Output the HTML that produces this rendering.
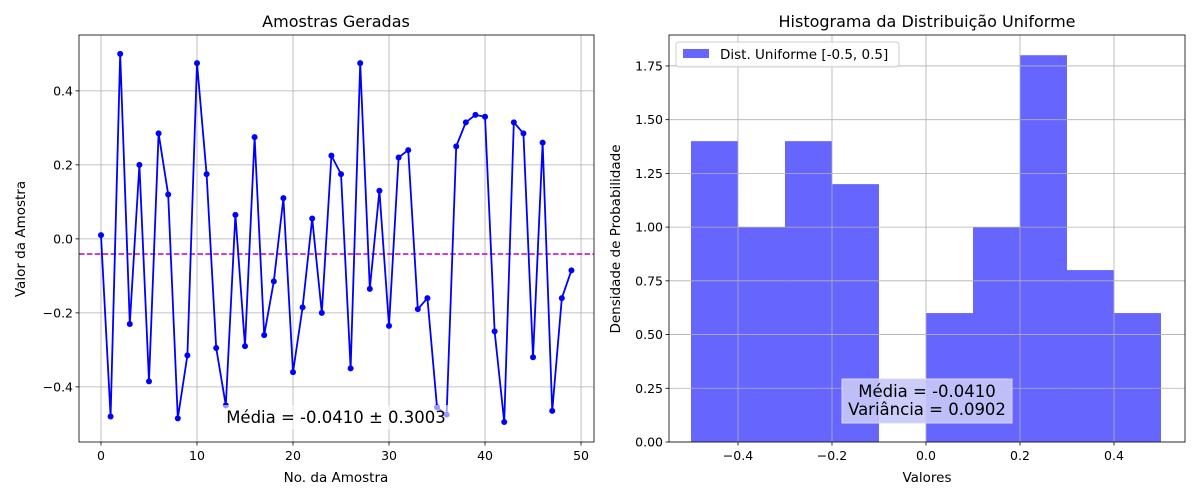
<!DOCTYPE html>
<html><head><meta charset="utf-8"><style>
body{margin:0;background:#fff}
svg{display:block;font-family:"DejaVu Sans","Liberation Sans",sans-serif}
</style></head><body>
<svg id="c" width="1200" height="500" viewBox="0 0 1200 500"></svg>
<script>
const sampleIdx = Array.from({length:50},(_,i)=>i);
const sampleVals = [0.01,-0.48,0.50,-0.23,0.20,-0.385,0.285,0.12,-0.485,-0.315,0.475,0.175,-0.295,-0.45,0.065,-0.29,0.275,-0.26,-0.115,0.11,-0.36,-0.185,0.055,-0.20,0.225,0.175,-0.35,0.475,-0.135,0.13,-0.235,0.22,0.24,-0.19,-0.16,-0.455,-0.475,0.25,0.315,0.335,0.33,-0.25,-0.495,0.315,0.285,-0.32,0.26,-0.465,-0.16,-0.085];
const meanVal = -0.0410;
const stdVal = 0.3003;
const varVal = 0.0902;
const leftXTicks = [0,10,20,30,40,50];
const leftYTicks = [-0.4,-0.2,0.0,0.2,0.4];
const binEdges = [-0.5,-0.4,-0.3,-0.2,-0.1,0.0,0.1,0.2,0.3,0.4,0.5];
const binDensity = [1.4,1.0,1.4,1.2,0,0.6,1.0,1.8,0.8,0.6];
const rightXTicks = [-0.4,-0.2,0.0,0.2,0.4];
const rightYTicks = [0,0.25,0.5,0.75,1.0,1.25,1.5,1.75];

const svg=document.getElementById('c');
const NS='http://www.w3.org/2000/svg';
function mk(tag,attrs,parent,text){const e=document.createElementNS(NS,tag);for(const k in attrs)e.setAttribute(k,attrs[k]);if(text!==undefined)e.textContent=text;(parent||svg).appendChild(e);return e;}
const fmt=(v,d)=>(v<0?'−':'')+Math.abs(v).toFixed(d);
const TK=12.5, AX=13.5, TT=16, AN=16.5;

// Left axes
const L={x0:79,x1:594,y0:35,y1:442,xmin:-2.29,xmax:51.35,ymin:-0.549,ymax:0.551};
const lx=v=>L.x0+(v-L.xmin)/(L.xmax-L.xmin)*(L.x1-L.x0);
const ly=v=>L.y1-(v-L.ymin)/(L.ymax-L.ymin)*(L.y1-L.y0);
const gL=mk('g',{});

leftXTicks.forEach(t=>{const x=lx(t);
 const g=mk('line',{x1:x,x2:x,y1:L.y0,y2:L.y1,stroke:'#b0b0b0','stroke-width':0.8},gL);
 mk('line',{x1:x,x2:x,y1:L.y1,y2:L.y1+3.5,stroke:'#000','stroke-width':0.8},gL);
 const tx=mk('text',{x:x,y:L.y1+18,'font-size':TK,'text-anchor':'middle'},gL,String(t));});
leftYTicks.forEach(t=>{const y=ly(t);
 const g=mk('line',{x1:L.x0,x2:L.x1,y1:y,y2:y,stroke:'#b0b0b0','stroke-width':0.8},gL);
 mk('line',{x1:L.x0-3.5,x2:L.x0,y1:y,y2:y,stroke:'#000','stroke-width':0.8},gL);
 const tx=mk('text',{x:L.x0-6,y:y+4.5,'font-size':TK,'text-anchor':'end'},gL,fmt(t,1));});
const ml=mk('line',{x1:L.x0,x2:L.x1,y1:ly(meanVal),y2:ly(meanVal),stroke:'#bf00bf','stroke-width':1.5,'stroke-dasharray':'5.5,2.4'},gL);

const pts=sampleIdx.map((i,k)=>lx(i)+','+ly(sampleVals[k])).join(' ');
const pl=mk('polyline',{points:pts,fill:'none',stroke:'#0000ff','stroke-width':1.8},gL);

sampleIdx.forEach((i,k)=>{const c=mk('circle',{cx:lx(i),cy:ly(sampleVals[k]),r:3,fill:'#0000ff'},gL);});
const lb=mk('rect',{x:221,y:405,width:230,height:24,fill:'#fff','fill-opacity':0.6},gL);

const lt=mk('text',{x:336,y:423,'font-size':AN,'text-anchor':'middle'},gL,'Média = '+meanVal.toFixed(4)+' ± '+stdVal.toFixed(4));

const lf=mk('rect',{x:L.x0,y:L.y0,width:L.x1-L.x0,height:L.y1-L.y0,fill:'none',stroke:'#000','stroke-width':0.8},gL);

let t1=mk('text',{x:336,y:27,'font-size':TT,'text-anchor':'middle'},gL,'Amostras Geradas');
let t2=mk('text',{x:336,y:482,'font-size':AX,'text-anchor':'middle'},gL,'No. da Amostra');
let t3=mk('text',{x:25,y:239,'font-size':AX,'text-anchor':'middle',transform:'rotate(-90 25 239)'},gL,'Valor da Amostra');

// Right axes
const R={x0:669,x1:1185,y0:35,y1:442,xmin:-0.5468,xmax:0.5511,ymin:0,ymax:1.894};
const rx=v=>R.x0+(v-R.xmin)/(R.xmax-R.xmin)*(R.x1-R.x0);
const ry=v=>R.y1-(v-R.ymin)/(R.ymax-R.ymin)*(R.y1-R.y0);
const gR=mk('g',{});

binDensity.forEach((d,k)=>{if(d<=0)return;const x=rx(binEdges[k]),w=rx(binEdges[k+1])-x;
 const b=mk('rect',{x:x,y:ry(d),width:w,height:ry(0)-ry(d),fill:'#0000ff','fill-opacity':0.6},gR);});
rightXTicks.forEach(t=>{const x=rx(t);
 const g=mk('line',{x1:x,x2:x,y1:R.y0,y2:R.y1,stroke:'#b0b0b0','stroke-width':0.8},gR);
 mk('line',{x1:x,x2:x,y1:R.y1,y2:R.y1+3.5,stroke:'#000','stroke-width':0.8},gR);
 const tx=mk('text',{x:x,y:R.y1+18,'font-size':TK,'text-anchor':'middle'},gR,fmt(t,1));});
rightYTicks.forEach(t=>{const y=ry(t);
 const g=mk('line',{x1:R.x0,x2:R.x1,y1:y,y2:y,stroke:'#b0b0b0','stroke-width':0.8},gR);
 mk('line',{x1:R.x0-3.5,x2:R.x0,y1:y,y2:y,stroke:'#000','stroke-width':0.8},gR);
 const tx=mk('text',{x:R.x0-6,y:y+4.5,'font-size':TK,'text-anchor':'end'},gR,t.toFixed(2));});
const rb=mk('rect',{x:842,y:379,width:170,height:44,fill:'#c8c8f8','fill-opacity':0.9,stroke:'#d8d8f8'},gR);

let r1=mk('text',{x:927,y:397,'font-size':AN,'text-anchor':'middle'},gR,'Média = '+meanVal.toFixed(4));
let r2=mk('text',{x:927,y:415,'font-size':AN,'text-anchor':'middle'},gR,'Variância = '+varVal.toFixed(4));
const lg=mk('g',{},gR);
mk('rect',{x:676,y:42,width:223,height:25,rx:3,fill:'#fff','fill-opacity':0.8,stroke:'#ccc'},lg);
let ls=mk('rect',{x:683,y:49,width:26,height:9,fill:'#0000ff','fill-opacity':0.6},lg);
let lt2=mk('text',{x:720,y:59,'font-size':AX},lg,'Dist. Uniforme [-0.5, 0.5]');
const rf=mk('rect',{x:R.x0,y:R.y0,width:R.x1-R.x0,height:R.y1-R.y0,fill:'none',stroke:'#000','stroke-width':0.8},gR);

let s1=mk('text',{x:927,y:27,'font-size':TT,'text-anchor':'middle'},gR,'Histograma da Distribuição Uniforme');
let s2=mk('text',{x:927,y:482,'font-size':AX,'text-anchor':'middle'},gR,'Valores');
let s3=mk('text',{x:620,y:239,'font-size':AX,'text-anchor':'middle',transform:'rotate(-90 620 239)'},gR,'Densidade de Probabilidade');
</script>
</body></html>
